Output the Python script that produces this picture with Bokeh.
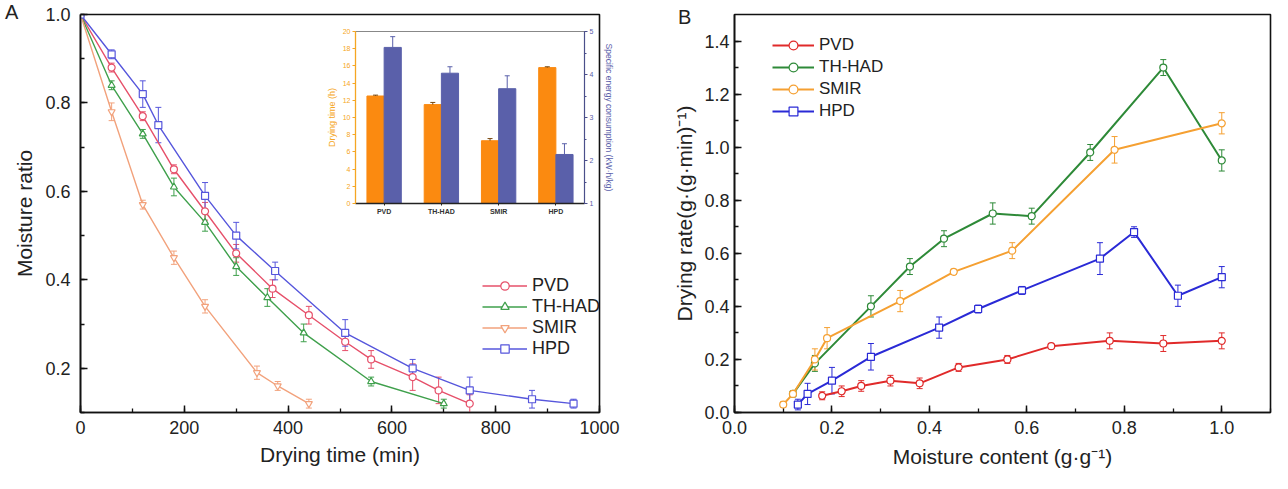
from bokeh.plotting import figure
from bokeh.models import (ColumnDataSource, Whisker, TeeHead, SingleIntervalTicker, Div,
                          GridBox, FactorRange, LinearAxis, Range1d, FixedTicker,
                          PrintfTickFormatter)
from bokeh.embed import file_html
from bokeh.resources import INLINE
from bokeh.transform import dodge

FONT = "Liberation Sans"

# ---------------- Panel A data: moisture ratio vs drying time ----------------
pvd_t = [0, 60, 120, 180, 240, 300, 370, 440, 510, 560, 640, 690, 750]
pvd_mr = [1.0, 0.88, 0.77, 0.65, 0.555, 0.46, 0.38, 0.32, 0.26, 0.22, 0.18, 0.15, 0.12]
pvd_err = [0, 0.01, 0.01, 0.01, 0.02, 0.02, 0.02, 0.02, 0.02, 0.02, 0.03, 0.03, 0.02]

thhad_t = [0, 60, 120, 180, 240, 300, 360, 430, 560, 700]
thhad_mr = [1.0, 0.84, 0.73, 0.61, 0.53, 0.43, 0.36, 0.28, 0.17, 0.12]
thhad_err = [0, 0.01, 0.01, 0.02, 0.02, 0.02, 0.02, 0.02, 0.01, 0.01]

smir_t = [0, 60, 120, 180, 240, 340, 380, 440]
smir_mr = [1.0, 0.78, 0.57, 0.45, 0.34, 0.19, 0.16, 0.12]
smir_err = [0, 0.02, 0.01, 0.015, 0.015, 0.015, 0.01, 0.01]

hpd_t = [0, 60, 120, 150, 240, 300, 375, 510, 640, 750, 870, 950]
hpd_mr = [1.0, 0.91, 0.82, 0.75, 0.59, 0.50, 0.42, 0.28, 0.20, 0.15, 0.13, 0.12]
hpd_err = [0, 0.01, 0.03, 0.04, 0.03, 0.03, 0.02, 0.03, 0.02, 0.03, 0.02, 0.01]

# ---------------- Inset data ----------------
inset_cats = ["PVD", "TH-HAD", "SMIR", "HPD"]
drying_time_h = [12.5, 11.5, 7.3, 15.8]
drying_time_err = [0.1, 0.25, 0.25, 0.1]
energy_kwh = [4.63, 4.03, 3.67, 2.14]
energy_err = [0.25, 0.15, 0.3, 0.25]

# ---------------- Panel B data: drying rate vs moisture content ----------------
pvd_mc = [0.18, 0.22, 0.26, 0.32, 0.38, 0.46, 0.56, 0.65, 0.77, 0.88, 1.0]
pvd_rate = [0.063, 0.08, 0.10, 0.12, 0.11, 0.17, 0.20, 0.25, 0.27, 0.26, 0.27]
pvd_rerr = [0.015, 0.02, 0.02, 0.02, 0.02, 0.015, 0.015, 0.005, 0.03, 0.03, 0.03]

thhad_mc = [0.12, 0.165, 0.28, 0.36, 0.43, 0.53, 0.61, 0.73, 0.88, 1.0]
thhad_rate = [0.07, 0.185, 0.40, 0.55, 0.655, 0.75, 0.74, 0.98, 1.30, 0.95]
thhad_rerr = [0.01, 0.03, 0.04, 0.03, 0.03, 0.04, 0.03, 0.03, 0.03, 0.04]

smir_mc = [0.10, 0.12, 0.165, 0.19, 0.34, 0.45, 0.57, 0.78, 1.0]
smir_rate = [0.03, 0.07, 0.20, 0.28, 0.42, 0.53, 0.61, 0.99, 1.09]
smir_rerr = [0.01, 0.01, 0.04, 0.04, 0.04, 0.01, 0.03, 0.05, 0.04]

hpd_mc = [0.13, 0.15, 0.20, 0.28, 0.42, 0.50, 0.59, 0.75, 0.82, 0.91, 1.0]
hpd_rate = [0.03, 0.07, 0.12, 0.21, 0.32, 0.39, 0.46, 0.58, 0.68, 0.44, 0.51]
hpd_rerr = [0.02, 0.04, 0.05, 0.05, 0.04, 0.015, 0.015, 0.06, 0.02, 0.04, 0.04]

series_names = ["PVD", "TH-HAD", "SMIR", "HPD"]
markers = ["circle", "triangle", "inverted_triangle", "square"]
colors_a = ["#e6506a", "#3fa04c", "#f2a27c", "#5656dc"]
colors_b = ["#e02a2a", "#2e8a38", "#f5a032", "#2a2ad6"]


def style_main(p, tick_size="18px"):
    p.toolbar_location = None
    p.xgrid.visible = False
    p.ygrid.visible = False
    p.outline_line_color = "#111111"
    p.outline_line_width = 1.6
    p.background_fill_color = "white"
    p.border_fill_color = "white"
    for ax in (p.xaxis[0], p.yaxis[0]):
        ax.axis_line_color = "#111111"
        ax.axis_line_width = 1.6
        ax.major_tick_in = 7
        ax.major_tick_out = 0
        ax.minor_tick_in = 4
        ax.minor_tick_out = 0
        ax.major_tick_line_width = 1.5
        ax.minor_tick_line_width = 1.3
        ax.major_tick_line_color = "#111111"
        ax.minor_tick_line_color = "#111111"
        ax.major_label_text_font = FONT
        ax.major_label_text_font_size = tick_size
        ax.major_label_text_color = "#222222"
        ax.axis_label_text_font = FONT
        ax.axis_label_text_font_size = "21px"
        ax.axis_label_text_font_style = "normal"
        ax.axis_label_text_color = "#222222"


def add_series(p, xs, ys, errs, name, marker, color, lw, size):
    src = ColumnDataSource(dict(x=xs, y=ys,
                                lo=[v - e for v, e in zip(ys, errs)],
                                hi=[v + e for v, e in zip(ys, errs)]))
    p.add_layout(Whisker(source=src, base="x", upper="hi", lower="lo", dimension="height",
                         line_color=color, line_width=1,
                         upper_head=TeeHead(size=6, line_color=color, line_width=1),
                         lower_head=TeeHead(size=6, line_color=color, line_width=1)))
    p.line("x", "y", source=src, line_color=color, line_width=lw, legend_label=name)
    p.scatter("x", "y", source=src, marker=marker, size=size, line_color=color,
              fill_color="white", line_width=1.2, legend_label=name)


def panel_letter(letter, top, left):
    return Div(text=letter, width=24, height=24, margin=(top, 0, 0, left),
               styles={"font-family": FONT, "font-size": "20px", "line-height": "20px",
                       "color": "#222222"})


# ======================= Panel A =======================
pA = figure(width=632, height=473, output_backend="svg", toolbar_location=None,
            x_range=Range1d(0, 1000), y_range=Range1d(0.1, 1.0),
            min_border_left=80, min_border_right=15, min_border_top=14, min_border_bottom=58,
            x_axis_label="Drying time (min)", y_axis_label="Moisture ratio")
style_main(pA)
pA.xaxis.ticker = SingleIntervalTicker(interval=200, num_minor_ticks=2)
pA.yaxis.ticker = SingleIntervalTicker(interval=0.2, num_minor_ticks=2)
pA.yaxis.formatter = PrintfTickFormatter(format="%.1f")
pA.xaxis.major_label_standoff = 8
pA.xaxis.axis_label_standoff = 6
pA.yaxis.major_label_standoff = 10
pA.yaxis.axis_label_standoff = 6

for xs, ys, es, nm, mk, c in zip([pvd_t, thhad_t, smir_t, hpd_t],
                                 [pvd_mr, thhad_mr, smir_mr, hpd_mr],
                                 [pvd_err, thhad_err, smir_err, hpd_err],
                                 series_names, markers, colors_a):
    add_series(pA, xs, ys, es, nm, mk, c, 1.4, 7)

legA = pA.legend[0]
legA.location = (402, 53)
legA.padding = 0
legA.margin = 0
legA.spacing = 0
legA.glyph_width = 45
legA.glyph_height = 21
legA.label_height = 21
legA.label_standoff = 5
legA.label_text_font = FONT
legA.label_text_font_size = "18px"
legA.label_text_color = "#222222"
legA.border_line_alpha = 0
legA.background_fill_alpha = 0

# ======================= Inset =======================
inset = figure(width=342, height=247, output_backend="svg", toolbar_location=None,
               x_range=FactorRange(factors=inset_cats, range_padding=0),
               y_range=Range1d(0, 20),
               min_border_left=30, min_border_right=33, min_border_top=8, min_border_bottom=18,
               margin=(17, 0, 0, 275))
inset.background_fill_alpha = 0
inset.border_fill_alpha = 0
inset.xgrid.visible = False
inset.ygrid.visible = False
inset.outline_line_color = "#888888"
inset.outline_line_width = 1
inset.extra_y_ranges = {"energy": Range1d(1, 5)}

isrc = ColumnDataSource(dict(cat=inset_cats, h=drying_time_h,
                             hu=[v + e for v, e in zip(drying_time_h, drying_time_err)],
                             e=energy_kwh,
                             eu=[v + e for v, e in zip(energy_kwh, energy_err)]))
orange = "#fb8a10"
blue = "#5a60aa"
xo = dodge("cat", -0.15, range=inset.x_range)
xb = dodge("cat", 0.15, range=inset.x_range)
inset.vbar(x=xo, top="h", bottom=0, width=0.3, source=isrc, fill_color=orange, line_color=orange)
inset.vbar(x=xb, top="e", bottom=1, width=0.3, source=isrc, fill_color=blue, line_color=blue,
           y_range_name="energy")
inset.segment(x0=xo, y0="h", x1=xo, y1="hu", source=isrc, line_color="#7a4a10", line_width=1)
inset.scatter(x=xo, y="hu", marker="dash", size=5, source=isrc, line_color="#7a4a10", line_width=1)
inset.segment(x0=xb, y0="e", x1=xb, y1="eu", source=isrc, line_color=blue, line_width=1,
              y_range_name="energy")
inset.scatter(x=xb, y="eu", marker="dash", size=5, source=isrc, line_color=blue, line_width=1,
              y_range_name="energy")

ax_l = inset.yaxis[0]
ax_l.ticker = FixedTicker(ticks=list(range(0, 21, 2)))
ax_l.axis_line_color = "#f5a623"
ax_l.axis_line_width = 1.3
ax_l.major_tick_line_color = "#f5a623"
ax_l.major_tick_out = 3
ax_l.major_tick_in = 0
ax_l.minor_tick_out = 0
ax_l.major_label_text_color = "#f5a623"
ax_l.major_label_text_font = FONT
ax_l.major_label_text_font_size = "7px"
ax_l.major_label_standoff = 2
ax_l.axis_label = "Drying time (h)"
ax_l.axis_label_text_color = "#f5a623"
ax_l.axis_label_text_font = FONT
ax_l.axis_label_text_font_size = "9px"
ax_l.axis_label_text_font_style = "normal"
ax_l.axis_label_standoff = 3

ax_r = LinearAxis(y_range_name="energy", ticker=SingleIntervalTicker(interval=1, num_minor_ticks=2),
                  axis_label="Specific energy consumption (kW·h/kg)")
ax_r.axis_line_color = "#4a4f8a"
ax_r.axis_line_width = 1.2
ax_r.major_tick_line_color = "#4a4f8a"
ax_r.minor_tick_line_color = "#4a4f8a"
ax_r.major_tick_out = 3
ax_r.major_tick_in = 0
ax_r.minor_tick_out = 2
ax_r.minor_tick_in = 0
ax_r.major_label_text_color = blue
ax_r.major_label_text_font = FONT
ax_r.major_label_text_font_size = "7px"
ax_r.major_label_standoff = 2
ax_r.axis_label_text_color = blue
ax_r.axis_label_text_font = FONT
ax_r.axis_label_text_font_size = "8.5px"
ax_r.axis_label_text_font_style = "normal"
ax_r.axis_label_standoff = 8
inset.add_layout(ax_r, "right")

ax_b = inset.xaxis[0]
ax_b.axis_line_color = "#222222"
ax_b.axis_line_width = 1.3
ax_b.major_tick_out = 2
ax_b.major_tick_in = 0
ax_b.major_tick_line_color = "#222222"
ax_b.major_label_text_font = FONT
ax_b.major_label_text_font_size = "7px"
ax_b.major_label_text_font_style = "bold"
ax_b.major_label_text_color = "#333333"
ax_b.major_label_standoff = 2

# ======================= Panel B =======================
pB = figure(width=640, height=473, output_backend="svg", toolbar_location=None,
            x_range=Range1d(0, 1.1), y_range=Range1d(0, 1.5),
            min_border_left=102, min_border_right=2, min_border_top=7, min_border_bottom=61,
            x_axis_label="Moisture content (g·g⁻¹)", y_axis_label="Drying rate(g·(g·min)⁻¹)")
style_main(pB, tick_size="18px")
pB.xaxis.ticker = SingleIntervalTicker(interval=0.2, num_minor_ticks=2)
pB.yaxis.ticker = SingleIntervalTicker(interval=0.2, num_minor_ticks=2)
pB.xaxis.formatter = PrintfTickFormatter(format="%.1f")
pB.yaxis.formatter = PrintfTickFormatter(format="%.1f")
pB.xaxis.major_label_standoff = 8
pB.xaxis.axis_label_standoff = 8
pB.yaxis.major_label_standoff = 5
pB.yaxis.axis_label_standoff = 5

for xs, ys, es, nm, mk, c in zip([pvd_mc, thhad_mc, smir_mc, hpd_mc],
                                 [pvd_rate, thhad_rate, smir_rate, hpd_rate],
                                 [pvd_rerr, thhad_rerr, smir_rerr, hpd_rerr],
                                 series_names, ["circle", "circle", "circle", "square"], colors_b):
    add_series(pB, xs, ys, es, nm, mk, c, 2.0, 7)

legB = pB.legend[0]
legB.location = (38, 290)
legB.padding = 0
legB.margin = 0
legB.spacing = 0
legB.glyph_width = 42
legB.glyph_height = 22
legB.label_height = 22
legB.label_standoff = 5
legB.label_text_font = FONT
legB.label_text_font_size = "17px"
legB.label_text_color = "#222222"
legB.border_line_alpha = 0
legB.background_fill_alpha = 0

letter_a = panel_letter("A", 2, 5)
letter_b = panel_letter("B", 7, 46)

grid = GridBox(children=[(pA, 0, 0), (inset, 0, 0), (letter_a, 0, 0),
                         (pB, 0, 1), (letter_b, 0, 1)])

open("out.html", "w").write(file_html(grid, INLINE))
